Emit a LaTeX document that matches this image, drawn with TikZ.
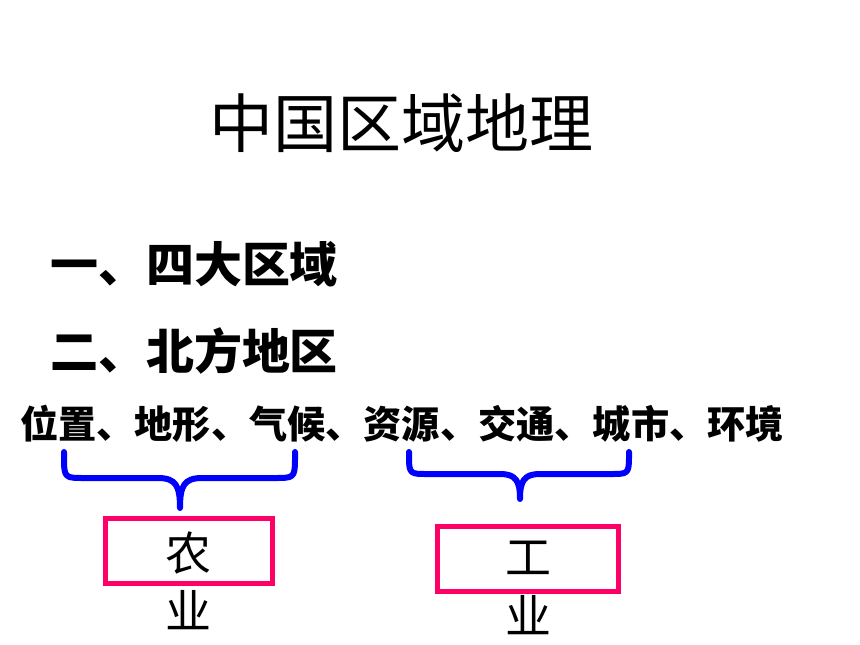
\documentclass[tikz,border=0pt]{standalone}
\usepackage{fontspec}
\setmainfont{Noto Sans CJK SC}
\definecolor{braceblue}{RGB}{0,0,255}
\definecolor{boxpink}{RGB}{255,0,102}
\begin{document}
\begin{tikzpicture}[x=1pt,y=-1pt,
  txt/.style={inner sep=0pt,outer sep=0pt,text=black},
  headbold/.style={txt,anchor=west,font=\fontsize{48}{48}\selectfont\bfseries},
  rowbold/.style={txt,anchor=west,font=\fontsize{38.2}{38.2}\selectfont\bfseries},
  boxlabel/.style={txt,font=\fontsize{46}{46}\selectfont},
  pinkbox/.style={draw=boxpink,line width=5pt,fill=white},
  bracepath/.style={draw=braceblue,line width=6pt,line cap=round,line join=round}]
\useasboundingbox[fill=white] (0,0) rectangle (860,645);
% title
\node[txt,font=\fontsize{64}{64}\selectfont] (title) at (401,123) {中国区域地理};
% headings
\node[headbold] (h1) at (50,264) {一、四大区域};
\node[headbold] (h2) at (50,351) {二、北方地区};
\node[rowbold] (row) at (20,424) {位置、地形、气候、资源、交通、城市、环境};
% boxes
\node[pinkbox,minimum width=167pt,minimum height=65pt] (boxA) at (189,551) {};
\node[boxlabel] (nong) at (188,553) {农};
\node[boxlabel] (yeA) at (188,610) {业};
\node[pinkbox,minimum width=181pt,minimum height=65pt] (boxB) at (528,559) {};
\node[boxlabel] (gong) at (528,558) {工};
\node[boxlabel] (yeB) at (528,615) {业};
% brace end points
\coordinate (bAl) at (64,452);
\coordinate (bAr) at (295,452);
\coordinate (bAt) at (180,508);
\coordinate (bBl) at (409,452);
\coordinate (bBr) at (629,452);
\coordinate (bBt) at (520,499);
% left brace
\path[bracepath] (bAl) -- ++(0,8) .. controls +(0,18) and +(-18,0) .. ++(20,18)
  -- (158,478) .. controls (176,478) and (180,486) .. (bAt)
  .. controls (180,486) and (184,478) .. (202,478)
  -- (275,478) .. controls +(18,0) and +(0,18) .. ++(20,-18) -- (bAr);
% right brace
\path[bracepath] (bBl) -- ++(0,6) .. controls +(0,16) and +(-16,0) .. ++(18,16)
  -- (500,474) .. controls (516,474) and (520,481) .. (bBt)
  .. controls (520,481) and (524,474) .. (540,474)
  -- (611,474) .. controls +(16,0) and +(0,16) .. ++(18,-16) -- (bBr);
\end{tikzpicture}
\end{document}
